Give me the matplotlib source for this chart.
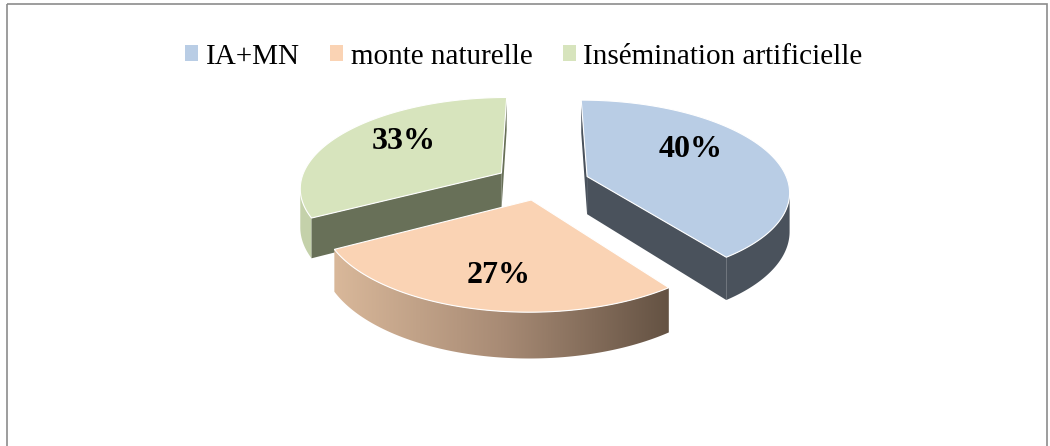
import numpy as np
import matplotlib.pyplot as plt
from matplotlib.patches import Polygon, Rectangle
from matplotlib.colors import LinearSegmentedColormap

# data
categories = ["IA+MN", "monte naturelle", "Insémination artificielle"]
shares = [40, 27, 33]
labels = ["40%", "27%", "33%"]

top_colors = ["#B9CDE5", "#FAD3B4", "#D7E4BD"]
side_colors = ["#4A525C", None, "#C4D1AA"]
cut_colors = ["#4A525C", "#8A7360", "#687058"]
label_nudge = [(-6, -11), (-2, 14), (-2, -6)]

# projection of the tilted disc (pixel coordinates, y down)
X0, Y0 = 542, 182
A, B = 201, 89.4
persp = 0.15
eu, ev = 0.238, 0.2
D = 38

fig = plt.figure(figsize=(10.5, 4.46), dpi=100)
ax = fig.add_axes([0, 0, 1, 1])
ax.set_xlim(0, 1050)
ax.set_ylim(446, 0)
ax.axis("off")

ax.add_patch(Rectangle((7, 4), 1040, 460, fill=False, edgecolor="#8C8C8C", lw=1.2))


def proj(u, v, down=False):
    s = 1.0 / (1.0 - persp * v)
    x = X0 + A * u * s
    y = Y0 + B * v * s
    if down:
        y = y + D * s
    return x, y


fr = np.array(shares) / sum(shares)
bounds = np.concatenate([[0], np.cumsum(fr) * 360])
order = [2, 0, 1]  # back to front

grad = LinearSegmentedColormap.from_list("peach", ["#D9B89A", "#A88B75", "#645243"])

for i in order:
    t0, t1 = bounds[i], bounds[i + 1]
    tm = np.radians((t0 + t1) / 2)
    ou, ov = eu * np.sin(tm), -ev * np.cos(tm)

    ts = np.radians(np.linspace(t0, t1, 300))
    ru, rv = ou + np.sin(ts), ov - np.cos(ts)
    xt, yt = proj(ru, rv)
    xb, yb = proj(ru, rv, down=True)
    apex = proj(ou, ov)
    apex_b = proj(ou, ov, down=True)

    # outer curved side: visible where the rim runs leftward
    vis = np.gradient(xt) < 0
    if vis.any():
        idx = np.where(vis)[0]
        sl = slice(idx[0], idx[-1] + 1)
        pts = list(zip(xt[sl], yt[sl])) + list(zip(xb[sl][::-1], yb[sl][::-1]))
        poly = Polygon(pts, closed=True, lw=0, zorder=1)
        if side_colors[i] is None:
            poly.set_facecolor("none")
            ax.add_patch(poly)
            img = ax.imshow(np.linspace(0, 1, 256)[None, :], cmap=grad, aspect="auto",
                            extent=[xt[sl].min(), xt[sl].max(), yb[sl].max() + 2, yt[sl].min() - 2],
                            zorder=1)
            img.set_clip_path(poly)
        else:
            poly.set_facecolor(side_colors[i])
            ax.add_patch(poly)

    # radial cut faces: visible when the slice lies above the edge on screen
    mx, my = proj(ou + 0.5 * np.sin(tm), ov - 0.5 * np.cos(tm))
    for k in (0, -1):
        ex_, ey_ = xt[k] - apex[0], yt[k] - apex[1]
        if abs(ex_) < 1e-6:
            continue
        line_y = apex[1] + ey_ / ex_ * (mx - apex[0])
        if my < line_y:
            quad = [apex, (xt[k], yt[k]), (xb[k], yb[k]), apex_b]
            ax.add_patch(Polygon(quad, closed=True, facecolor=cut_colors[i], lw=0, zorder=1))

    # top face
    face = [apex] + list(zip(xt, yt))
    ax.add_patch(Polygon(face, closed=True, facecolor=top_colors[i], edgecolor="white",
                         lw=0.8, zorder=2))

    # value label
    lx, ly = proj(ou + 0.6 * np.sin(tm), ov - 0.6 * np.cos(tm))
    ax.text(lx + label_nudge[i][0], ly + label_nudge[i][1], labels[i], ha="center", va="center",
            fontsize=23, fontweight="bold", family="Liberation Serif", zorder=3)

handles = [Rectangle((0, 0), 1, 1, facecolor=col, edgecolor="none") for col in top_colors]
fig.legend(handles, categories, loc="center", bbox_to_anchor=(0.499, 0.873), ncol=3, frameon=False,
           prop={"family": "Liberation Serif", "size": 21}, handlelength=0.45, handleheight=0.45,
           handletextpad=0.25, columnspacing=1.05, borderpad=0, borderaxespad=0)

fig.savefig("out.png", dpi=100)
